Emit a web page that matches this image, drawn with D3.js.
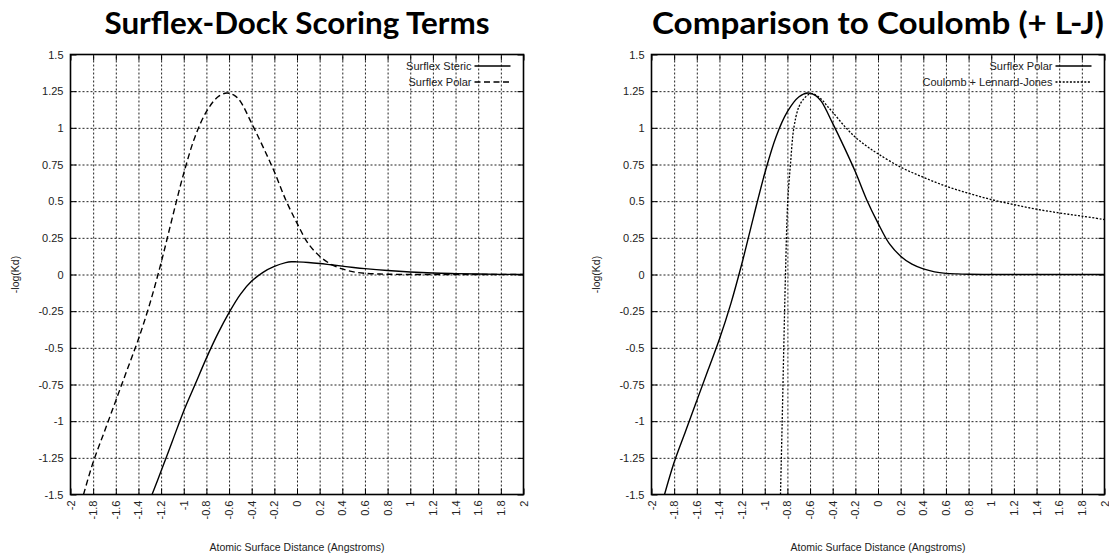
<!DOCTYPE html>
<html>
<head>
<meta charset="utf-8">
<script src="https://cdn.jsdelivr.net/npm/d3@7"></script>
<style>
  body { margin: 0; background: #fff; }
  svg { display: block; }
  .tick text { font-family: "Liberation Sans", Arial, sans-serif; font-size: 11px; fill: #222; }
  .grid line { stroke: #222; stroke-dasharray: 2,2; stroke-width: 1; }
  .grid .domain { display: none; }
</style>
</head>
<body>
<svg id="chart" width="1109" height="553"></svg>
<script>
// ---- data ----
var xTicks = [-2, -1.8, -1.6, -1.4, -1.2, -1, -0.8, -0.6, -0.4, -0.2, 0, 0.2, 0.4, 0.6, 0.8, 1, 1.2, 1.4, 1.6, 1.8, 2];
var yTicks = [-1.5, -1.25, -1, -0.75, -0.5, -0.25, 0, 0.25, 0.5, 0.75, 1, 1.25, 1.5];

var stericDist  = [-1.28, -1.2, -1.1, -1.0, -0.9, -0.8, -0.7, -0.6, -0.5, -0.4, -0.3, -0.2, -0.1, -0.05, 0, 0.1, 0.2, 0.3, 0.4, 0.5, 0.6, 0.8, 1.0, 1.2, 1.4, 1.6, 1.8, 2.0];
var stericScore = [-1.5, -1.34, -1.135, -0.93, -0.75, -0.57, -0.405, -0.26, -0.135, -0.045, 0.015, 0.055, 0.081, 0.087, 0.086, 0.082, 0.075, 0.066, 0.057, 0.048, 0.04, 0.027, 0.017, 0.01, 0.006, 0.003, 0.001, 0];

var polarDist  = [-1.885, -1.8, -1.7, -1.6, -1.5, -1.4, -1.3, -1.2, -1.1, -1.0, -0.9, -0.8, -0.7, -0.62, -0.55, -0.5, -0.4, -0.3, -0.2, -0.1, 0, 0.1, 0.2, 0.3, 0.4, 0.5, 0.6, 0.7, 0.8, 1.0, 1.2, 1.4, 1.6, 1.8, 2.0];
var polarScore = [-1.5, -1.28, -1.07, -0.86, -0.65, -0.44, -0.2, 0.08, 0.39, 0.69, 0.94, 1.11, 1.21, 1.237, 1.22, 1.18, 1.03, 0.87, 0.7, 0.51, 0.35, 0.21, 0.125, 0.07, 0.038, 0.018, 0.008, 0.004, 0.002, 0, 0, 0, 0, 0, 0];

var coulombDist  = [-0.861, -0.846, -0.832, -0.817, -0.797, -0.773, -0.743, -0.7, -0.655, -0.61, -0.57, -0.5, -0.45, -0.4, -0.3, -0.2, -0.1, 0, 0.2, 0.4, 0.6, 0.8, 1.0, 1.2, 1.4, 1.6, 1.8, 2.0];
var coulombScore = [-1.5, -1.0, -0.5, 0, 0.5, 0.75, 1.0, 1.14, 1.198, 1.228, 1.232, 1.195, 1.15, 1.107, 1.015, 0.936, 0.875, 0.823, 0.732, 0.663, 0.602, 0.554, 0.511, 0.477, 0.445, 0.42, 0.398, 0.375];

(function drawCharts() {

  var svg = d3.select('#chart');
  var top = 54.5, bottom = 494.5;

  var panels = [
    {
      id: 'left', x0: 70.5, x1: 523.5,
      title: 'Surflex-Dock Scoring Terms', titleWidth: 385,
      series: [
        { name: 'Surflex Steric', xs: stericDist, ys: stericScore, dash: null, width: 1.4 },
        { name: 'Surflex Polar', xs: polarDist, ys: polarScore, dash: '6,3.5', width: 1.4 }
      ]
    },
    {
      id: 'right', x0: 651.5, x1: 1104.5,
      title: 'Comparison to Coulomb (+ L-J)', titleWidth: 452,
      series: [
        { name: 'Surflex Polar', xs: polarDist, ys: polarScore, dash: null, width: 1.4 },
        { name: 'Coulomb + Lennard-Jones', xs: coulombDist, ys: coulombScore, dash: '2,1.6', width: 1.3 }
      ]
    }
  ];

  panels.forEach(drawPanel);

  //------------------------------

  function toPoints(xs, ys) {
    return xs.map(function(d, i) { return [d, ys[i]]; });
  }

  function drawPanel(p) {
    var x = d3.scaleLinear().domain([-2, 2]).range([p.x0, p.x1]);
    var y = d3.scaleLinear().domain([-1.5, 1.5]).range([bottom, top]);
    var h = bottom - top, w = p.x1 - p.x0;
    var fmt = function(d) { return String(d); };

    var g = svg.append('g').attr('class', 'panel-' + p.id);

    // grid
    g.append('g').attr('class', 'grid')
      .attr('transform', 'translate(0,' + bottom + ')')
      .call(d3.axisBottom(x).tickValues(xTicks.slice(1, -1)).tickSize(-h).tickFormat(''));
    g.append('g').attr('class', 'grid')
      .attr('transform', 'translate(' + p.x0 + ',0)')
      .call(d3.axisLeft(y).tickValues(yTicks.slice(1, -1)).tickSize(-w).tickFormat(''));

    // axes, ticks pointing inward like gnuplot
    var xa = g.append('g')
      .attr('transform', 'translate(0,' + bottom + ')')
      .call(d3.axisBottom(x).tickValues(xTicks).tickSizeInner(-6).tickSizeOuter(0).tickFormat(fmt));
    xa.selectAll('.tick text')
      .attr('transform', 'rotate(-90)')
      .attr('x', -6).attr('y', 0).attr('dy', '0.32em')
      .style('text-anchor', 'end');

    g.append('g')
      .attr('transform', 'translate(' + p.x0 + ',0)')
      .call(d3.axisLeft(y).tickValues(yTicks).tickSizeInner(-6).tickSizeOuter(0).tickPadding(7).tickFormat(fmt));

    g.append('g')
      .attr('transform', 'translate(0,' + top + ')')
      .call(d3.axisTop(x).tickValues(xTicks).tickSizeInner(-6).tickSizeOuter(0).tickFormat(''));
    g.append('g')
      .attr('transform', 'translate(' + p.x1 + ',0)')
      .call(d3.axisRight(y).tickValues(yTicks).tickSizeInner(-6).tickSizeOuter(0).tickFormat(''));

    g.selectAll('.domain').filter(function() { return !this.parentNode.classList.contains('grid'); }).remove();

    g.append('rect')
      .attr('x', p.x0).attr('y', top)
      .attr('width', w).attr('height', h)
      .attr('fill', 'none').attr('stroke', '#000').attr('stroke-width', 1.6);

    // curves
    var clipId = 'clip-' + p.id;
    g.append('clipPath').attr('id', clipId)
      .append('rect').attr('x', p.x0).attr('y', top).attr('width', w).attr('height', h);

    var line = d3.line()
      .x(function(d) { return x(d[0]); })
      .y(function(d) { return y(d[1]); })
      .curve(d3.curveCatmullRom.alpha(0.5));

    p.series.forEach(function(s) {
      g.append('path')
        .attr('clip-path', 'url(#' + clipId + ')')
        .attr('d', line(toPoints(s.xs, s.ys)))
        .attr('fill', 'none')
        .attr('stroke', '#000')
        .attr('stroke-width', s.width)
        .attr('stroke-dasharray', s.dash);
    });

    // legend
    var lg = g.append('g').attr('class', 'legend');
    p.series.forEach(function(s, i) {
      var ly = top + 11.5 + i * 16;
      lg.append('text')
        .attr('x', p.x1 - 52).attr('y', ly).attr('dy', '0.35em')
        .style('text-anchor', 'end')
        .style('font-family', '"Liberation Sans", Arial, sans-serif')
        .style('font-size', '11px').style('fill', '#222')
        .text(s.name);
      lg.append('line')
        .attr('x1', p.x1 - 49).attr('x2', p.x1 - 13)
        .attr('y1', ly).attr('y2', ly)
        .attr('stroke', '#000').attr('stroke-width', s.width)
        .attr('stroke-dasharray', s.dash);
    });

    // labels
    svg.append('text')
      .attr('x', (p.x0 + p.x1) / 2).attr('y', 551)
      .style('text-anchor', 'middle')
      .style('font-family', '"Liberation Sans", Arial, sans-serif')
      .style('font-size', '10.5px').style('fill', '#222')
      .text('Atomic Surface Distance (Angstroms)');

    svg.append('text')
      .attr('transform', 'translate(' + (p.x0 - 52) + ',' + (top + h / 2) + ') rotate(-90)')
      .style('text-anchor', 'middle')
      .style('font-family', '"Liberation Sans", Arial, sans-serif')
      .style('font-size', '10.5px').style('fill', '#222')
      .text('-log(Kd)');

    svg.append('text')
      .attr('x', (p.x0 + p.x1) / 2).attr('y', 34)
      .attr('textLength', p.titleWidth).attr('lengthAdjust', 'spacingAndGlyphs')
      .style('text-anchor', 'middle')
      .style('font-family', 'Lato, sans-serif')
      .style('font-weight', 700)
      .style('font-size', '30px').style('fill', '#000')
      .text(p.title);
  }

})();
</script>
</body>
</html>
